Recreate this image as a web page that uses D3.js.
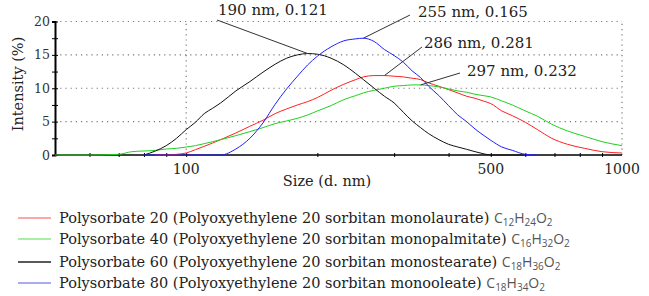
<!DOCTYPE html>
<html><head><meta charset="utf-8">
<script src="https://cdn.jsdelivr.net/npm/d3@7"></script>
<style>html,body{margin:0;padding:0;background:#fff;}svg{display:block;}</style>
</head><body>
<script>
// ---- data ----
const sizes = [50,60,70,75,80,85,90,95,100,105,110,115,120,130,140,150,160,170,180,190,200,215,230,245,255,270,285,300,315,330,345,360,380,400,420,440,460,480,500,530,560,600,640,690,750,820,900,1000];
const ps20 = [null,null,null,null,null,0,0,0.1,0.3,0.8,1.3,1.8,2.3,3.3,4.3,5.2,6.2,6.9,7.5,8.0,8.6,9.7,10.6,11.3,11.7,11.9,11.9,11.8,11.7,11.5,11.3,10.8,10.3,9.8,9.3,8.8,8.5,8.1,7.7,6.6,5.9,4.9,3.8,2.5,1.6,1.0,0.5,0.3];
const ps40 = [0,0,0.1,0.5,0.6,0.7,0.9,1.0,1.2,1.4,1.7,2.0,2.3,2.9,3.5,4.1,4.7,5.1,5.5,6.0,6.6,7.4,8.3,8.9,9.3,9.7,10.0,10.3,10.4,10.5,10.5,10.4,10.2,9.9,9.6,9.4,9.1,8.9,8.7,8.1,7.5,6.6,5.8,4.6,3.6,2.8,2.0,1.4];
const ps60 = [null,null,null,null,0,0.6,1.4,2.5,3.8,4.9,6.2,7.0,7.8,9.6,11.0,12.4,13.6,14.5,15.0,15.2,15.1,14.5,13.5,12.2,11.3,10.0,8.8,7.8,6.4,5.1,4.1,3.2,2.3,1.6,1.2,0.85,0.5,0.2,0,0,0,0,null,null,null,null,null,null];
const ps80 = [null,null,null,null,0,0,0,0,0,0,0,0,0,0.9,2.5,4.8,7.6,9.9,11.8,13.5,14.8,16.2,17.1,17.4,17.5,17.0,15.8,14.9,13.9,12.6,11.6,10.3,8.9,7.4,6.0,5.0,3.9,3.0,2.2,1.2,0.7,0.1,0,null,null,null,null,null];
const seriesNames = [
  ["Polysorbate 20 (Polyoxyethylene 20 sorbitan monolaurate)", [["C",""],["12","sub"],["H",""],["24","sub"],["O",""],["2","sub"]]],
  ["Polysorbate 40 (Polyoxyethylene 20 sorbitan monopalmitate)", [["C",""],["16","sub"],["H",""],["32","sub"],["O",""],["2","sub"]]],
  ["Polysorbate 60 (Polyoxyethylene 20 sorbitan monostearate)", [["C",""],["18","sub"],["H",""],["36","sub"],["O",""],["2","sub"]]],
  ["Polysorbate 80 (Polyoxyethylene 20 sorbitan monooleate)", [["C",""],["18","sub"],["H",""],["34","sub"],["O",""],["2","sub"]]]
];
const yTicks = [0,5,10,15,20];
const xTickLabels = [100,500,1000];
const annotations = ["190 nm, 0.121","255 nm, 0.165","286 nm, 0.281","297 nm, 0.232"];

// ---- layout ----
const W = 649, H = 296;
const curveColors = ["#ff2020","#20d020","#111111","#2020ff"];
const legendColors = ["#ff8a8a","#8ae88a","#222222","#8c8cf0"];
const serif = "'DejaVu Serif', serif";

const svg = d3.select("body").append("svg").attr("width", W).attr("height", H);
const x = d3.scaleLog().domain([50,1000]).range([55,622]);
const y = d3.scaleLinear().domain([0,20]).range([155,21.5]);

// gridlines
const grid = svg.append("g").attr("stroke","#777").attr("stroke-width",1.2).attr("stroke-dasharray","1.2,4");
[5,10,15,20].forEach(v => grid.append("line").attr("x1",x(50)).attr("x2",x(1000)).attr("y1",y(v)).attr("y2",y(v)));
[100,1000].forEach(v => grid.append("line").attr("x1",x(v)).attr("x2",x(v)).attr("y1",y(0)).attr("y2",y(20)));

// axes
const yAxis = d3.axisLeft(y).tickValues(d3.range(0,20.1,2.5)).tickSize(3).tickFormat("");
const gy = svg.append("g").attr("transform",`translate(${x(50)},0)`).call(yAxis);
gy.select(".domain").attr("stroke","#000").attr("stroke-width",2);
gy.selectAll(".tick line").attr("x1",3).attr("x2",-3).attr("stroke","#000");
const xMinor = [60,70,80,90,100,200,300,400,500,600,700,800,900];
const xAxis = d3.axisBottom(x).tickValues(xMinor).tickSize(3).tickFormat("");
const gx = svg.append("g").attr("transform",`translate(0,${y(0)})`).call(xAxis);
gx.select(".domain").attr("stroke","#000").attr("stroke-width",1.5).attr("d",`M${x(50)},0H${x(1000)}`);
gx.selectAll(".tick line").attr("y1",-2).attr("y2",2).attr("stroke","#000");

// tick labels
svg.append("g").selectAll("text").data(yTicks).join("text")
  .attr("x",50).attr("y",d=>y(d)+4.5).attr("text-anchor","end")
  .attr("font-family",serif).attr("font-size",12.5).attr("fill","#333").text(d=>d);
svg.append("g").selectAll("text").data(xTickLabels).join("text")
  .attr("x",d=>x(d)).attr("y",174).attr("text-anchor","middle")
  .attr("font-family",serif).attr("font-size",14).attr("fill","#222").text(d=>d);

// axis titles
svg.append("text").attr("transform","translate(23,84) rotate(-90)").attr("text-anchor","middle")
  .attr("font-family",serif).attr("font-size",14.5).attr("fill","#222").text("Intensity (%)");
svg.append("text").attr("x",327).attr("y",186).attr("text-anchor","middle")
  .attr("font-family",serif).attr("font-size",14.5).attr("fill","#222").text("Size (d. nm)");

// curves
const allSeries = [ps20, ps40, ps60, ps80];
const line = d3.line().defined(d=>d[1]!==null).x(d=>x(d[0])).y(d=>y(d[1])).curve(d3.curveMonotoneX);
allSeries.forEach((vals,i) => {
  svg.append("path").datum(sizes.map((s,j)=>[s,vals[j]]))
    .attr("fill","none").attr("stroke",curveColors[i]).attr("stroke-width",1).attr("d",line);
});

// annotations
const annPos = [
  {tx:218, ty:15, x1:217, y1:20, x2:x(190), y2:y(15.2)},
  {tx:418, ty:17, x1:410, y1:15, x2:x(255), y2:y(17.5)},
  {tx:424, ty:48, x1:422, y1:47, x2:x(285), y2:y(11.9)},
  {tx:467, ty:76, x1:460, y1:73, x2:x(345), y2:y(10.5)}
];
annotations.forEach((t,i) => {
  const p = annPos[i];
  svg.append("line").attr("x1",p.x1).attr("y1",p.y1).attr("x2",p.x2).attr("y2",p.y2)
    .attr("stroke","#333").attr("stroke-width",1);
  svg.append("text").attr("x",p.tx).attr("y",p.ty).attr("font-family",serif)
    .attr("font-size",15).attr("fill","#222").text(t);
});

// legend
const rowY = [218,239,262,283];
seriesNames.forEach((s,i) => {
  svg.append("line").attr("x1",18).attr("x2",51).attr("y1",rowY[i]).attr("y2",rowY[i])
    .attr("stroke",legendColors[i]).attr("stroke-width",i===2?1.6:1.3);
  const t = svg.append("text").attr("x",59).attr("y",rowY[i]+5)
    .attr("font-family",serif).attr("font-size",14.5).attr("fill","#222");
  t.append("tspan").text(s[0]+" ");
  s[1].forEach(([txt,kind],k) => {
    const ts = t.append("tspan").attr("font-family","'Open Sans', sans-serif").attr("fill","#555").text(txt);
    if (kind==="sub") ts.attr("font-size",10).attr("dy",2.5);
    else ts.attr("font-size",14).attr("dy",k===0?0:-2.5);
  });
});
</script>
</body></html>
